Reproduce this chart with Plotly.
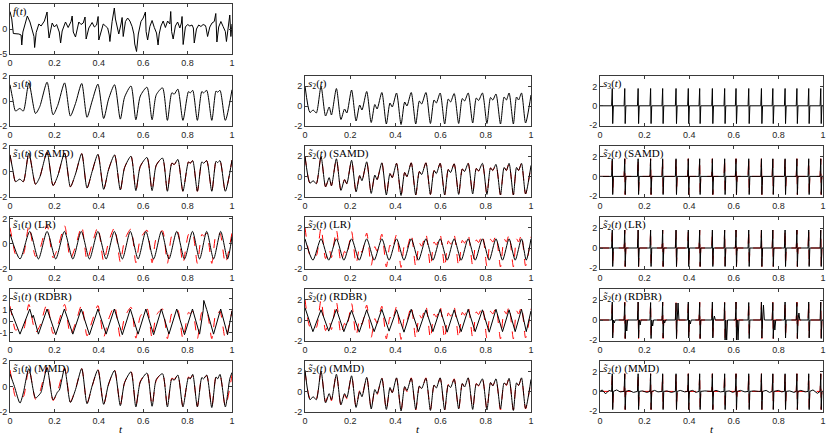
import plotly.graph_objects as go

# ---------------------------------------------------------------------------
# Key points (t, value).
# ---------------------------------------------------------------------------
F_T = [0, 0.008, 0.015, 0.04, 0.05, 0.053, 0.058, 0.065, 0.078, 0.09, 0.1, 0.108, 0.111,
       0.118, 0.13, 0.14, 0.155, 0.167, 0.17, 0.176, 0.19, 0.2, 0.21, 0.222, 0.228, 0.235,
       0.25, 0.262, 0.275, 0.28, 0.285, 0.295, 0.31, 0.32, 0.33, 0.338, 0.343, 0.355, 0.37,
       0.38, 0.39, 0.397, 0.4, 0.41, 0.42, 0.43, 0.44, 0.447, 0.45, 0.46, 0.47, 0.475, 0.485,
       0.49, 0.5, 0.505, 0.51, 0.52, 0.53, 0.54, 0.55, 0.558, 0.562, 0.57, 0.578, 0.59, 0.6,
       0.61, 0.613, 0.62, 0.63, 0.64, 0.65, 0.66, 0.667, 0.672, 0.68, 0.69, 0.7, 0.71, 0.72,
       0.724, 0.728, 0.735, 0.745, 0.755, 0.765, 0.772, 0.775, 0.78, 0.79, 0.8, 0.81, 0.82,
       0.826, 0.83, 0.84, 0.85, 0.86, 0.87, 0.88, 0.883, 0.89, 0.9, 0.91, 0.92, 0.927, 0.932,
       0.94, 0.95, 0.96, 0.97, 0.975, 0.985, 0.99, 0.995, 1.0]
F_V = [3.5, 2.0, -0.9, -1.0, -1.2, -3.2, -0.6, 0.6, 2.6, 1.4, -0.5, -1.5, -3.7,
       -0.7, 1.0, 0.6, 1.6, 3.4, 1.0, -1.8, 1.2, 0.4, 0.9, -0.6, -2.8, -0.4,
       1.4, 0.3, 1.5, 2.6, -0.6, -1.6, 1.4, 0.9, 1.2, 2.4, -2.0, 0.2, 1.3,
       0.4, 0.8, 2.5, -2.2, -0.3, 1.0, 0.6, 0.2, -1.2, -2.5, 1.5, 4.2, 2.0, 0.3,
       -1.0, 1.0, 2.3, -1.5, 1.5, 2.2, 1.6, 0.5, -1.0, -3.0, -4.5, -1.0, 1.5, 2.2,
       3.4, -0.5, -2.2, 0.5, 1.7, 0.3, -0.8, -3.2, -1.0, 0.6, 1.6, 0.3, 1.6, 1.0,
       3.5, -0.5, -2.0, 0.6, 1.4, 0.2, 1.2, 2.5, -3.1, 0.4, 0.9, 0.6, 0.8,
       0.2, -2.8, 0.0, 0.8, 0.5, 0.9, 0.7, 0.3, -1.5, 0.4, 1.2, 1.5, 3.1, -2.6,
       0.4, 1.5, 0.5, -0.5, -2.5, 1.2, 2.8, -1.5, 1.0]

S1_T = [0, 0.012, 0.025, 0.044, 0.06, 0.085, 0.115, 0.134, 0.167, 0.194, 0.215, 0.246,
        0.272, 0.295, 0.323, 0.347, 0.37, 0.396, 0.422, 0.444, 0.471, 0.497, 0.516, 0.545,
        0.567, 0.587, 0.617, 0.64, 0.659, 0.687, 0.709, 0.729, 0.74, 0.756, 0.779, 0.804,
        0.812, 0.823, 0.844, 0.864, 0.872, 0.886, 0.909, 0.928, 0.935, 0.946, 0.97, 1.0]
S1_V = [1.3, 0.2, -0.8, -0.6, -0.8, 1.45, -1.0, -0.45, 1.5, -1.1, -0.35, 1.45,
        -1.2, -0.2, 1.4, -1.3, 0.0, 1.35, -1.4, 0.15, 1.3, -1.45, 0.3, 1.2,
        -1.5, 0.4, 1.1, -1.5, 0.5, 1.05, -1.55, 0.65, 0.55, 0.95, -1.55, 0.75,
        0.65, 0.85, -1.55, 0.75, 0.65, 0.85, -1.55, 0.8, 0.7, 0.85, -1.55, 0.9]

S1_LR_T = [0, 0.045, 0.089, 0.128, 0.167, 0.206, 0.245, 0.283, 0.321, 0.358, 0.396, 0.433,
           0.47, 0.506, 0.542, 0.577, 0.612, 0.647, 0.682, 0.716, 0.751, 0.786, 0.822, 0.854,
           0.886, 0.917, 0.949, 0.98, 1.0]
S1_LR_V = [0.8, -1.2, 1.0, -1.2, 1.0, -1.2, 1.0, -1.2, 1.0, -1.2, 1.0, -1.2,
           1.0, -1.2, 1.0, -1.2, 1.0, -1.2, 1.0, -1.2, 1.0, -1.2, 1.0, -1.2,
           1.0, -1.2, 1.0, -1.2, 0.6]

S1_RDBR_T = [0, 0.045, 0.089, 0.1, 0.105, 0.128, 0.167, 0.206, 0.245, 0.283, 0.321, 0.358,
             0.396, 0.433, 0.47, 0.506, 0.542, 0.577, 0.612, 0.647, 0.682, 0.716, 0.751,
             0.786, 0.822, 0.854, 0.87, 0.873, 0.886, 0.917, 0.949, 0.98, 1.0]
S1_RDBR_V = [1.1, -1.15, 1.05, 0.3, 0.5, -1.15, 1.05, -1.2, 1.05, -1.15, 1.05, -1.2,
             1.05, -1.15, 1.05, -1.2, 1.05, -1.15, 1.05, -1.2, 1.05, -1.15, 1.05,
             -1.2, 1.05, -1.15, 0.9, 1.8, 1.0, -1.15, 1.05, -1.2, 0.9]

S1_MMD_T = [0, 0.02, 0.045, 0.06, 0.085, 0.115, 0.134, 0.14, 0.167, 0.194, 0.215, 0.222,
            0.246, 0.272, 0.295, 0.323, 0.347, 0.37, 0.396, 0.422, 0.444, 0.471, 0.497,
            0.516, 0.545, 0.567, 0.587, 0.617, 0.64, 0.659, 0.687, 0.709, 0.729, 0.74, 0.756,
            0.779, 0.804, 0.812, 0.823, 0.844, 0.864, 0.872, 0.886, 0.909, 0.928, 0.935,
            0.946, 0.97, 0.99, 1.0]
S1_MMD_V = [1.0, 0.0, -1.3, -0.5, 1.4, -0.9, -0.6, -0.45, 1.45, -1.05, -0.4, -0.3,
            1.4, -1.25, -0.25, 1.4, -1.35, 0.05, 1.3, -1.4, 0.2, 1.25, -1.5,
            0.3, 1.15, -1.6, 0.35, 1.05, -1.55, 0.55, 1.0, -1.6, 0.6, 0.5, 0.9,
            -1.6, 0.7, 0.6, 0.95, -1.6, 0.7, 0.6, 0.9, -1.65, 0.75, 0.6,
            0.95, -1.6, 0.6, 1.1]

S2_T = [0, 0.022, 0.036, 0.05,
        0.071, 0.091, 0.107, 0.117, 0.139, 0.159, 0.175, 0.185, 0.206, 0.226, 0.242, 0.252,
        0.273, 0.293, 0.309, 0.319, 0.34, 0.36, 0.376, 0.386, 0.405, 0.425, 0.441, 0.451,
        0.47, 0.49, 0.506, 0.516, 0.535, 0.555, 0.571, 0.581, 0.598, 0.618, 0.634, 0.644,
        0.66, 0.68, 0.696, 0.706, 0.722, 0.742, 0.758, 0.768, 0.785, 0.805, 0.821, 0.831,
        0.845, 0.865, 0.881, 0.891, 0.903, 0.922, 0.936, 0.945, 0.958, 0.976, 1.0]
S2_V = [2.0, -0.65, -0.4, -0.7,
        1.95, -1.0, -0.1, -0.9, 1.75, -1.35, -0.3, -0.7, 1.6, -1.5, 0.1, -0.4,
        1.45, -1.65, 0.15, -0.3, 1.35, -1.8, 0.3, -0.1, 1.3, -1.85, 0.4, 0.0,
        1.35, -1.8, 0.5, 0.2, 1.35, -1.75, 0.6, 0.3, 1.3, -1.8, 0.7, 0.4,
        1.25, -1.75, 0.75, 0.5, 1.3, -1.7, 0.8, 0.55, 1.3, -1.75, 0.85, 0.6,
        1.2, -1.8, 0.9, 0.6, 1.3, -1.8, 0.9, 0.6, 1.3, -1.7, 1.1]

S2_LR_T = [0, 0.035, 0.071, 0.105, 0.139, 0.172, 0.206, 0.24, 0.273, 0.306, 0.34, 0.372,
           0.405, 0.438, 0.47, 0.502, 0.535, 0.566, 0.598, 0.629, 0.66, 0.691, 0.722,
           0.753, 0.785, 0.815, 0.845, 0.874, 0.903, 0.93, 0.958, 0.979, 1.0]
S2_LR_V = [0.9, -1.15, 0.9, -1.15, 0.9, -1.15, 0.9, -1.15, 0.9, -1.15, 0.9, -1.15,
           0.9, -1.15, 0.9, -1.15, 0.9, -1.15, 0.9, -1.15, 0.9, -1.15, 0.9,
           -1.15, 0.9, -1.15, 0.9, -1.15, 0.9, -1.15, 0.9, -1.15, 0.9]

S2_RDBR_T = S2_LR_T
S2_RDBR_V = [1.2, -1.1, 1.0, -1.05, 1.05, -1.1, 0.95, -1.15, 1.0, -1.1, 1.05, -1.05,
             1.0, -1.15, 1.05, -1.1, 1.0, -1.1, 1.05, -1.15, 1.0, -1.1, 1.05,
             -1.1, 1.0, -1.15, 1.05, -1.1, 1.0, -1.1, 1.05, -1.1, 0.9]

S2_MMD_V = [2.1, -0.8, -0.5, -0.8,
            2.0, -1.1, -0.2, -0.8, 1.7, -1.3, -0.2, -0.6, 1.55, -1.55, 0.0, -0.5,
            1.4, -1.7, 0.2, -0.2, 1.3, -1.75, 0.4, -0.1, 1.35, -1.9, 0.5, 0.1,
            1.3, -1.75, 0.55, 0.3, 1.3, -1.85, 0.65, 0.35, 1.35, -1.8, 0.65, 0.4,
            1.2, -1.7, 0.8, 0.45, 1.35, -1.75, 0.75, 0.6, 1.25, -1.8, 0.9, 0.55,
            1.25, -1.7, 0.85, 0.65, 1.3, -1.85, 0.85, 0.6, 1.35, -1.65, 1.2]

S3_T = [0.055, 0.111, 0.171, 0.227, 0.281, 0.341, 0.396, 0.447, 0.504, 0.559, 0.61, 0.667,
        0.724, 0.775, 0.83, 0.883, 0.936, 0.99]
S3_HI = [1.8, 1.8, 1.8, 1.8, 1.8, 1.8, 1.8, 1.8, 1.8, 1.8, 1.8, 1.8, 1.8, 1.8, 1.8, 1.8, 1.8, 1.8]
S3_LO = [-1.85, -1.85, -1.85, -1.85, -1.85, -1.85, -1.85, -1.85, -1.85, -1.85, -1.85, -1.85,
         -1.85, -1.85, -1.85, -1.85, -1.85, -1.85]

S3_RDBR_HI = [1.8, 1.75, 1.8, 1.75, 1.8, 1.7, 1.8, 1.75, 1.8, 1.75, 1.8, 1.75, 1.8, 1.75,
              1.8, 1.75, 1.8, 1.8]
S3_RDBR_LO = [-1.8, -1.85, -1.8, -1.85, -1.8, -1.85, -1.8, -1.85, -1.8, -2.0, -2.0, -1.85,
              -1.8, -1.85, -1.8, -1.85, -1.8, -1.85]
S3_RDBR_TAIL = [-0.3, -1.1, -0.5, -0.6, -0.3, 1.7, -0.4, 0.0, 0.4, -2.0, -2.0, 0.0,
                1.5, -1.0, 0.0, 0.7, 0.0, 0.0]

S3_MMD_BT = [0.01, 0.025, 0.04, 0.075, 0.09, 0.13, 0.15, 0.19, 0.21, 0.245, 0.26, 0.3, 0.32,
             0.36, 0.38, 0.415, 0.43, 0.47, 0.49, 0.52, 0.54, 0.58, 0.595, 0.63, 0.65, 0.69,
             0.71, 0.745, 0.76, 0.8, 0.815, 0.85, 0.87, 0.9, 0.92, 0.955, 0.975]
S3_MMD_BV = [0.15, -0.25, 0.1, 0.15, -0.05, 0.1, -0.1, 0.05, -0.1, 0.1, -0.05, 0.05, -0.1,
             0.1, -0.05, 0.1, -0.1, 0.05, 0.0, 0.1, -0.05, 0.05, -0.1, 0.1, -0.05, 0.05,
             0.0, 0.1, -0.1, 0.1, -0.05, 0.05, -0.1, 0.1, -0.05, 0.15, -0.2]

T_TICKS = [0, 0.2, 0.4, 0.6, 0.8, 1]
T_TICKTEXT = ["0", "0.2", "0.4", "0.6", "0.8", "1"]


def spikes(times, hi, lo, tail=None):
    """Expand spike times/amplitudes into a polyline on a zero baseline."""
    xs, ys = [0.0], [0.0]
    for i, t in enumerate(times):
        xs += [t - 0.003, t, t + 0.002, t + 0.005]
        ys += [0.0, hi[i], lo[i], 0.0]
        if tail is not None and tail[i] != 0:
            xs += [t + 0.009, t + 0.013]
            ys += [tail[i], 0.0]
    xs.append(1.0)
    ys.append(0.0)
    return xs, ys


s3_x, s3_y = spikes(S3_T, S3_HI, S3_LO)
s3r_x, s3r_y = spikes(S3_T, S3_RDBR_HI, S3_RDBR_LO, S3_RDBR_TAIL)
_mx, _my = spikes(S3_T, S3_HI, S3_LO)
_pts = sorted(zip(_mx + S3_MMD_BT, _my + S3_MMD_BV))
s3m_x = [p[0] for p in _pts]
s3m_y = [p[1] for p in _pts]

W, H = 831, 435
COL_PX = [(10, 232), (305, 531), (600, 823)]
ROW_PX = [(4, 54), (76, 126), (146, 197), (217, 269), (289, 341), (361, 412)]


def lab(sub, method=None, tilde=False):
    s = "<i>s\u0303</i>" if tilde else "<i>s</i>"
    txt = f"{s}<sub>{sub}</sub>(<i>t</i>)"
    if method:
        txt += f" ({method})"
    return txt


K = dict(color="black", width=1)
R = dict(color="red", width=1, dash="dash")

# (row, col, yrange, yticks, label, traces) ; trace = (x, y, line, shape)
panels = [
    (0, 0, [-5, 5], [-5, 0, 5], "<i>f</i>(<i>t</i>)", [(F_T, F_V, K, "linear")]),
    (1, 0, [-2, 2], [-2, 0, 2], lab(1), [(S1_T, S1_V, K, "spline")]),
    (1, 1, [-2, 3], [-2, 0, 2], lab(2), [(S2_T, S2_V, K, "spline")]),
    (1, 2, [-2.1, 3.1], [-2, 0, 2], lab(3), [(s3_x, s3_y, K, "linear")]),
    (2, 0, [-2, 2], [-2, 0, 2], lab(1, "SAMD", True),
     [(S1_T, S1_V, R, "spline"), (S1_T, S1_V, K, "spline")]),
    (2, 1, [-2, 3], [-2, 0, 2], lab(2, "SAMD", True),
     [(S2_T, S2_V, R, "spline"), (S2_T, S2_V, K, "spline")]),
    (2, 2, [-2.1, 3.1], [-2, 0, 2], lab(2, "SAMD", True),
     [(s3_x, s3_y, R, "linear"), (s3_x, s3_y, K, "linear")]),
    (3, 0, [-2, 2.15], [-2, 0, 2], lab(1, "LR", True),
     [(S1_T, S1_V, R, "spline"), (S1_LR_T, S1_LR_V, K, "spline")]),
    (3, 1, [-2, 3], [-2, 0, 2], lab(2, "LR", True),
     [(S2_T, S2_V, R, "spline"), (S2_LR_T, S2_LR_V, K, "spline")]),
    (3, 2, [-2.1, 3.1], [-2, 0, 2], lab(2, "LR", True),
     [(s3_x, s3_y, R, "linear"), (s3_x, s3_y, K, "linear")]),
    (4, 0, [-1.75, 2.8], [-1, 0, 1, 2], lab(1, "RDBR", True),
     [(S1_T, S1_V, R, "spline"), (S1_RDBR_T, S1_RDBR_V, K, "linear")]),
    (4, 1, [-2, 3], [-2, 0, 2], lab(2, "RDBR", True),
     [(S2_T, S2_V, R, "spline"), (S2_RDBR_T, S2_RDBR_V, K, "linear")]),
    (4, 2, [-2.1, 3.1], [-2, 0, 2], lab(2, "RDBR", True),
     [(s3_x, s3_y, R, "linear"), (s3r_x, s3r_y, K, "linear")]),
    (5, 0, [-2, 2], [-2, 0, 2], lab(1, "MMD", True),
     [(S1_T, S1_V, R, "spline"), (S1_MMD_T, S1_MMD_V, K, "spline")]),
    (5, 1, [-2, 3], [-2, 0, 2], lab(2, "MMD", True),
     [(S2_T, S2_V, R, "spline"), (S2_T, S2_MMD_V, K, "spline")]),
    (5, 2, [-2.1, 3.1], [-2, 0, 2], lab(2, "MMD", True),
     [(s3_x, s3_y, R, "linear"), (s3m_x, s3m_y, K, "linear")]),
]

fig = go.Figure()
layout = {}
annotations = []
TICKFONT = dict(family="Liberation Sans, Arial, sans-serif", size=9, color="#262626")
LABFONT = dict(family="Liberation Serif, DejaVu Serif, serif", size=11, color="black")

for i, (row, col, yr, yt, label, traces) in enumerate(panels):
    n = "" if i == 0 else str(i + 1)
    x0, x1 = COL_PX[col]
    y0, y1 = ROW_PX[row]
    common = dict(showline=True, mirror="ticks", linecolor="#3a3a3a", linewidth=1,
                  ticks="inside", ticklen=3, tickwidth=1, tickcolor="#3a3a3a",
                  showgrid=False, zeroline=False, tickfont=TICKFONT, automargin=False)
    layout["xaxis" + n] = dict(domain=[x0 / W, x1 / W], range=[0, 1], anchor="y" + n,
                               tickvals=T_TICKS, ticktext=T_TICKTEXT, **common)
    layout["yaxis" + n] = dict(domain=[1 - y1 / H, 1 - y0 / H], range=yr, anchor="x" + n,
                               tickvals=yt, ticktext=[str(v) for v in yt], **common)
    for (tx, ty, ln, shape) in traces:
        fig.add_trace(go.Scatter(x=tx, y=ty, mode="lines", xaxis="x" + n, yaxis="y" + n,
                                 line=dict(shape=shape, smoothing=0.7, **ln),
                                 showlegend=False, hoverinfo="skip"))
    annotations.append(dict(text=label, xref=f"x{n} domain", yref=f"y{n} domain",
                            x=0.0, y=1.0, xanchor="left", yanchor="top", showarrow=False,
                            font=LABFONT, xshift=1, yshift=1))
    if row == 5:
        annotations.append(dict(text="<i>t</i>", xref=f"x{n} domain", yref="paper",
                                x=0.5, y=1 - 429 / H, xanchor="center", yanchor="middle",
                                showarrow=False, font=LABFONT))

fig.update_layout(width=W, height=H, margin=dict(l=0, r=0, t=0, b=0),
                  paper_bgcolor="white", plot_bgcolor="white",
                  annotations=annotations, **layout)

# the page body has a default 8px margin; drop it so the figure fills the window
fig.write_html("out.html", config={"displayModeBar": False},
               post_script="document.body.style.margin='0px';")
